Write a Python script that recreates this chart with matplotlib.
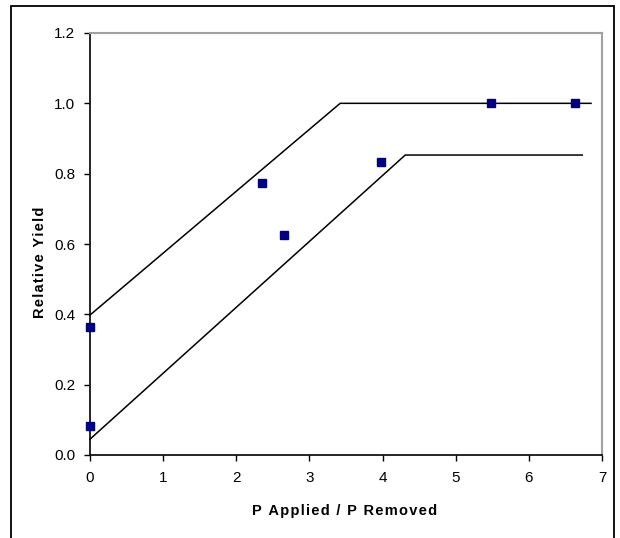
import numpy as np
import matplotlib.pyplot as plt
from matplotlib.patches import Rectangle

plt.rcParams['font.family'] = ['Liberation Sans', 'DejaVu Sans']

# measured points
p_ratio = [0.0, 0.0, 2.35, 2.65, 3.98, 5.48, 6.63]
rel_yield = [0.365, 0.083, 0.773, 0.625, 0.832, 1.0, 1.0]

# upper and lower envelope lines
upper_x = [0.0, 3.42, 6.85]
upper_y = [0.398, 1.0, 1.0]
lower_x = [0.0, 4.31, 6.73]
lower_y = [0.045, 0.853, 0.853]

xticks = [0, 1, 2, 3, 4, 5, 6, 7]
yticks = [0.0, 0.2, 0.4, 0.6, 0.8, 1.0, 1.2]

W, H = 620, 538
fig = plt.figure(figsize=(6.2, 5.38), dpi=100)
ax = fig.add_axes([90/W, 1 - 455/H, 512/W, (455 - 33)/H])

ax.plot(upper_x, upper_y, color='black', lw=1.1, clip_on=False)
ax.plot(lower_x, lower_y, color='black', lw=1.1, clip_on=False)
ax.plot(p_ratio, rel_yield, ls='none', marker='s', ms=5.2, color='#000080',
        mec='#000080', clip_on=False, zorder=5)

ax.set_xlim(0, 7)
ax.set_ylim(0, 1.2)
ax.set_xticks(xticks)
ax.set_yticks(yticks)
ax.set_yticklabels([f'{v:.1f}' for v in yticks])
ax.tick_params(direction='out', width=1, labelsize=11, colors='black')
ax.tick_params(axis='x', length=4, pad=7.5)
ax.tick_params(axis='y', length=4.5, pad=6)

for s in ['left', 'bottom']:
    ax.spines[s].set_color('black')
    ax.spines[s].set_linewidth(1.2)
for s in ['top', 'right']:
    ax.spines[s].set_color('#a0a0a0')
    ax.spines[s].set_linewidth(1.5)

def spaced(s):
    return '\u200a'.join(s)

fig.text(345/W, 1 - 511/H, spaced('P Applied / P Removed'), fontsize=10.5, fontweight='bold',
         ha='center', va='center')
fig.text(40/W, 1 - 262/H, spaced('Relative Yield'), fontsize=10.5, fontweight='bold',
         ha='center', va='center', rotation=90)

# outer chart frame (bottom cut off)
fig.patches.append(Rectangle((11/W, -0.05), 603/W, 1.05 - 6/H, transform=fig.transFigure,
                             fill=False, edgecolor='black', lw=1.3))

fig.savefig('out.png', dpi=100)
